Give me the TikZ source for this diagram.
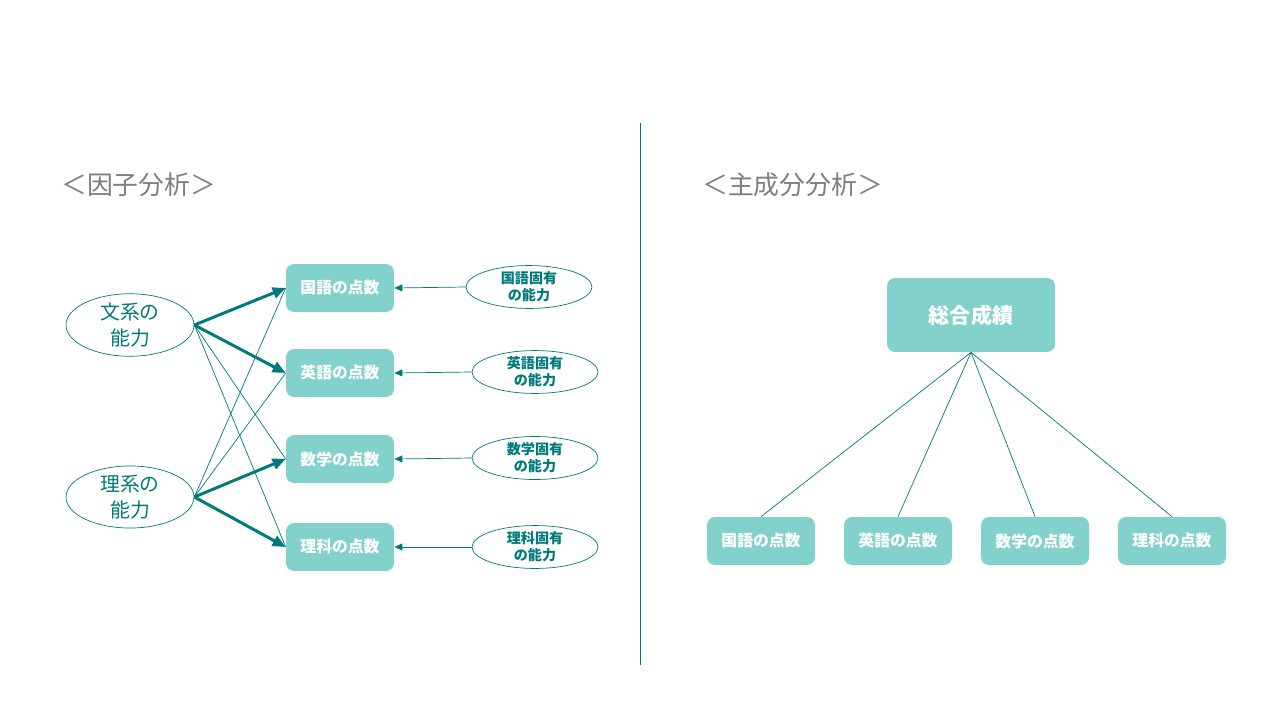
\documentclass[tikz,border=0pt]{standalone}
\usepackage{fontspec}
\setmainfont{Noto Sans CJK JP}
\usepackage{tikz}
\usetikzlibrary{shapes.geometric,arrows.meta}

\definecolor{tealdark}{HTML}{007A7A}
\definecolor{tealbox}{HTML}{82D1CA}
\definecolor{titlegray}{HTML}{7F7F7F}

\begin{document}
\begin{tikzpicture}[x=0.02cm,y=-0.02cm,
  score/.style={fill=tealbox,rounded corners=0.16cm,minimum width=2.16cm,minimum height=0.96cm,inner sep=0pt,
    text=white,font=\fontsize{9}{11}\selectfont\bfseries},
  ability/.style={ellipse,draw=tealdark,thin,minimum width=2.56cm,minimum height=1.2cm,inner sep=0pt,
    text=tealdark,align=center,font=\fontsize{11.3}{14.7}\selectfont},
  unique/.style={ellipse,draw=tealdark,thin,minimum width=2.52cm,minimum height=0.76cm,inner sep=0pt,
    text=tealdark,align=center,font=\fontsize{8}{9.6}\selectfont\bfseries},
  heading/.style={text=titlegray,anchor=west,font=\fontsize{14.7}{16}\selectfont},
  loading/.style={-{Triangle[length=0.26cm,width=0.22cm]},tealdark,line width=1.7pt}]
\useasboundingbox (0,0) rectangle (1280,720);

% titles
\node[heading] (fa) at (55,185) {＜因子分析＞};
\node[heading] (pca) at (696,185) {＜主成分分析＞};

% divider
\coordinate (top) at (640,123);
\coordinate (bottom) at (640,665);
\draw[tealdark,thin] (top) -- (bottom);

% factor analysis
\node[ability] (bunkei) at (130,325) {文系の\\能力};
\node[ability] (rikei) at (130,497) {理系の\\能力};

\node[score] (kokugo) at (340,288) {国語の点数};
\node[score] (eigo) at (340,373) {英語の点数};
\node[score] (sugaku) at (340,459) {数学の点数};
\node[score] (rika) at (340,547) {理科の点数};

\node[unique] (ukokugo) at (529,287) {国語固有\\の能力};
\node[unique] (ueigo) at (535,372) {英語固有\\の能力};
\node[unique] (usugaku) at (535,458) {数学固有\\の能力};
\node[unique] (urika) at (535,547) {理科固有\\の能力};

\draw [loading] (bunkei.east) -- (kokugo.west);
\draw [loading] (bunkei.east) -- (eigo.west);
\draw [loading] (rikei.east) -- (sugaku.west);
\draw [loading] (rikei.east) -- (rika.west);

\draw [tealdark,thin] (bunkei.east) -- (sugaku.west);
\draw [tealdark,thin] (bunkei.east) -- (rika.west);
\draw [tealdark,thin] (rikei.east) -- (kokugo.west);
\draw [tealdark,thin] (rikei.east) -- (eigo.west);

\draw [-{Triangle[length=0.16cm,width=0.14cm]},tealdark,thin] (ukokugo.west) -- (kokugo.east);
\draw [-{Triangle[length=0.16cm,width=0.14cm]},tealdark,thin] (ueigo.west) -- (eigo.east);
\draw [-{Triangle[length=0.16cm,width=0.14cm]},tealdark,thin] (usugaku.west) -- (sugaku.east);
\draw [-{Triangle[length=0.16cm,width=0.14cm]},tealdark,thin] (urika.west) -- (rika.east);

% principal component analysis
\node[score,minimum width=3.36cm,minimum height=1.48cm,font=\fontsize{12}{14}\selectfont\bfseries] (total) at (971,315) {総合成績};

\node[score] (pkokugo) at (761,541) {国語の点数};
\node[score] (peigo) at (898,541) {英語の点数};
\node[score] (psugaku) at (1035,541) {数学の点数};
\node[score] (prika) at (1172,541) {理科の点数};

\draw [tealdark,thin] (total.south) -- (pkokugo.north);
\draw [tealdark,thin] (total.south) -- (peigo.north);
\draw [tealdark,thin] (total.south) -- (psugaku.north);
\draw [tealdark,thin] (total.south) -- (prika.north);

\end{tikzpicture}
\end{document}
